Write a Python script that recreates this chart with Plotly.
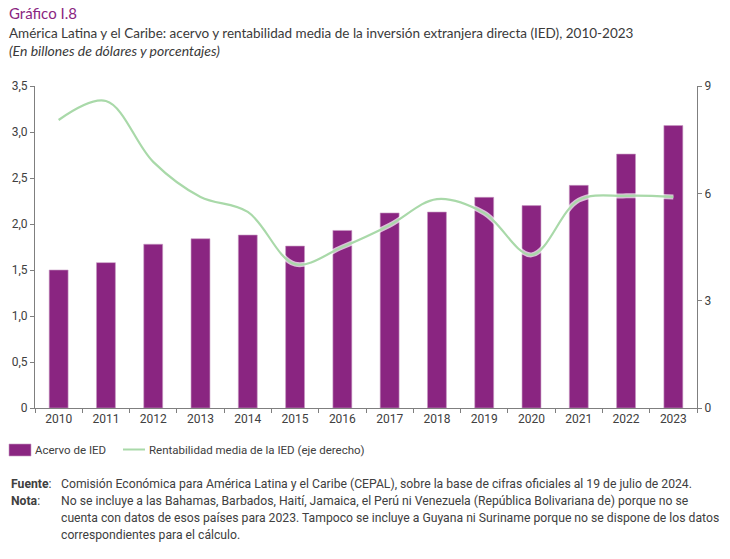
import plotly.graph_objects as go

years = [str(y) for y in range(2010, 2024)]
acervo = [1.50, 1.58, 1.78, 1.84, 1.88, 1.76, 1.93, 2.12, 2.13, 2.29, 2.20, 2.42, 2.76, 3.07]
rentabilidad = [8.05, 8.58, 6.88, 5.90, 5.48, 4.02, 4.50, 5.11, 5.84, 5.45, 4.28, 5.81, 5.93, 5.90]
left_ticks = [0, 0.5, 1.0, 1.5, 2.0, 2.5, 3.0, 3.5]
left_labels = ["0", "0,5", "1,0", "1,5", "2,0", "2,5", "3,0", "3,5"]
right_ticks = [0, 3, 6, 9]

BAR = "#8a2581"
LINE = "#a9d9a9"
AXIS = "#7f7f7f"
TXT = "#404040"
COND = "Roboto, Liberation Sans, sans-serif"
SANS = "Lato, Open Sans, sans-serif"

W, H = 730, 559
L, R, T, B = 35, 697, 86, 408

def px(x):
    return (x - L) / (R - L)

def py(y):
    return (B - y) / (B - T)

fig = go.Figure()
fig.add_trace(go.Bar(x=years, y=acervo, name="Acervo de IED",
                     marker=dict(color=BAR, line=dict(color="#c79bc2", width=0.6)),
                     width=0.4, showlegend=False))
fig.add_trace(go.Scatter(x=years, y=rentabilidad, yaxis="y2", mode="lines",
                         line=dict(color="#ffffff", width=5, shape="spline", smoothing=1.0),
                         showlegend=False, hoverinfo="skip", opacity=0.7))
fig.add_trace(go.Scatter(x=years, y=rentabilidad, yaxis="y2", mode="lines",
                         name="Rentabilidad media de la IED (eje derecho)",
                         line=dict(color=LINE, width=2.2, shape="spline", smoothing=1.0),
                         showlegend=False))

def ann(text, x, y, family, size, color, anchor="left"):
    return dict(text=text, x=px(x), y=py(y), xref="paper", yref="paper",
                xanchor=anchor, yanchor="middle", showarrow=False, align="left",
                font=dict(family=family, size=size, color=color))

FN = 12.2
annotations = [
    ann("Gráfico I.8", 7, 13, SANS, 15, "#8a2581"),
    ann("América Latina y el Caribe: acervo y rentabilidad media de la inversión extranjera directa (IED), 2010-2023",
        7, 33, SANS, 13.5, "#3a3a3a"),
    ann("<i>(En billones de dólares y porcentajes)</i>", 7, 51, SANS, 14, "#3a3a3a"),
    ann("Acervo de IED", 33, 450, COND, 11.5, TXT),
    ann("Rentabilidad media de la IED (eje derecho)", 147, 450, COND, 11.5, TXT),
    ann("<b>Fuente</b>:", 9, 484, COND, FN, TXT),
    ann("Comisión Económica para América Latina y el Caribe (CEPAL), sobre la base de cifras oficiales al 19 de julio de 2024.",
        59, 484, COND, FN, TXT),
    ann("<b>Nota</b>:", 9, 501, COND, FN, TXT),
    ann("No se incluye a las Bahamas, Barbados, Haití, Jamaica, el Perú ni Venezuela (República Bolivariana de) porque no se",
        59, 501, COND, FN, TXT),
    ann("cuenta con datos de esos países para 2023. Tampoco se incluye a Guyana ni Suriname porque no se dispone de los datos",
        59, 518, COND, FN, TXT),
    ann("correspondientes para el cálculo.", 59, 535, COND, FN, TXT),
]

shapes = [
    dict(type="rect", xref="paper", yref="paper", x0=px(9), x1=px(31), y0=py(444), y1=py(456),
         fillcolor=BAR, line=dict(color="#c79bc2", width=0.6)),
    dict(type="line", xref="paper", yref="paper", x0=px(123), x1=px(145), y0=py(449.5), y1=py(449.5),
         line=dict(color=LINE, width=2)),
]

fig.update_layout(
    width=W, height=H,
    margin=dict(l=L, r=W - R, t=T, b=H - B, pad=0),
    paper_bgcolor="white", plot_bgcolor="white",
    separators=", ",
    bargap=0.6,
    showlegend=False,
    font=dict(family=COND, size=12, color=TXT),
    xaxis=dict(type="category", showline=True, linecolor=AXIS, linewidth=1,
               ticks="outside", tickcolor=AXIS, ticklen=4, tickson="boundaries",
               showgrid=False, automargin=False,
               tickfont=dict(family=COND, size=12, color=TXT)),
    yaxis=dict(range=[0, 3.5], tickvals=left_ticks, ticktext=left_labels,
               showline=True, linecolor=AXIS, linewidth=1, ticks="outside",
               tickcolor=AXIS, ticklen=4, showgrid=False, zeroline=False, automargin=False,
               tickfont=dict(family=COND, size=12, color=TXT)),
    yaxis2=dict(range=[0, 9], tickvals=right_ticks, overlaying="y", side="right",
                showline=True, linecolor=AXIS, linewidth=1, ticks="outside",
                tickcolor=AXIS, ticklen=4, showgrid=False, zeroline=False, automargin=False,
                tickfont=dict(family=COND, size=12, color=TXT)),
    annotations=annotations,
    shapes=shapes,
)

fig.write_html("out.html", config={"displayModeBar": False},
               post_script="document.body.style.margin='0';document.body.style.overflow='hidden';")
